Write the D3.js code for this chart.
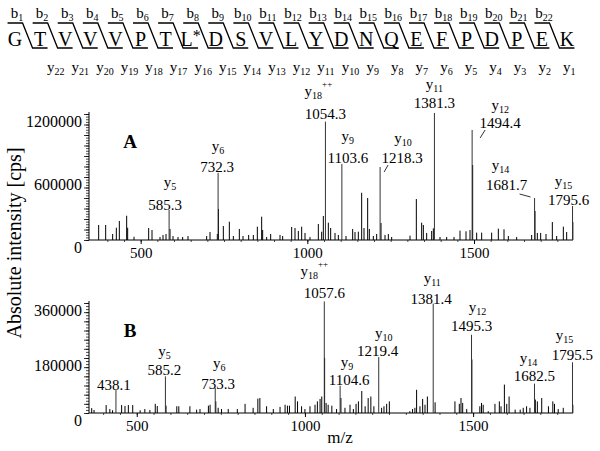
<!DOCTYPE html>
<html>
<head>
<meta charset="utf-8">
<script src="https://cdn.jsdelivr.net/npm/d3@7"></script>
<style>
  body { margin: 0; background: #fff; }
  text { font-family: "Liberation Serif", "Times New Roman", serif; fill: #000; }
</style>
</head>
<body>
<svg id="chart" width="600" height="451"></svg>
<script>
// peptide sequence and fragment ladder
var residues = ["G", "T", "V", "V", "V", "P", "T", "L*", "D", "S", "V", "L", "Y", "D", "N", "Q", "E", "F", "P", "D", "P", "E", "K"];

// axis ticks
var xTicks = [500, 1000, 1500];
var yTicksA = [0, 600000, 1200000];
var yTicksB = [0, 180000, 360000];

// panel A: unlabelled peaks [m/z, intensity]
var peaksA = [[374, 143000], [395, 143000], [416, 57000], [427, 117000], [436, 181000], [458, 231000], [461, 117000],
    [480, 31000], [524, 114000], [534, 95000], [558, 29000], [567, 48000], [576, 57000], [588, 105000], [597, 38000],
    [612, 29000], [626, 29000], [642, 38000], [698, 38000], [708, 76000], [730, 57000], [733.5, 295000], [748, 133000],
    [766, 174000], [778, 38000], [796, 105000], [807, 38000], [824, 48000], [838, 48000], [850, 127000], [863, 222000],
    [866, 95000], [878, 29000], [890, 57000], [918, 48000], [926, 38000], [953, 124000], [963, 114000], [973, 86000],
    [983, 127000], [993, 67000], [1008, 29000], [1033, 152000], [1043, 79000], [1048, 229000], [1063, 165000],
    [1070, 114000], [1083, 67000], [1093, 48000], [1116, 38000], [1136, 105000], [1143, 76000], [1153, 79000],
    [1163, 450000], [1170, 114000], [1181, 400000], [1186, 105000], [1198, 38000], [1208, 57000], [1221, 162000],
    [1233, 48000], [1243, 57000], [1253, 29000], [1308, 41000], [1327, 390000], [1343, 165000], [1348, 143000],
    [1358, 67000], [1373, 86000], [1378, 111000], [1398, 29000], [1418, 29000], [1440, 29000], [1458, 89000],
    [1476, 83000], [1488, 95000], [1496, 714000], [1508, 70000], [1523, 70000], [1553, 70000], [1573, 108000],
    [1590, 102000], [1603, 38000], [1628, 29000], [1673, 48000], [1683, 276000], [1690, 67000], [1700, 67000],
    [1716, 57000], [1735, 171000], [1748, 38000], [1768, 127000], [1778, 76000], [1796.5, 171000]];

// panel A: annotated peaks
var annIonA = ["y5", "y6", "y18++", "y9", "y10", "y11", "y12", "y14", "y15"];
var annMzA = [585.3, 732.3, 1054.3, 1103.6, 1218.3, 1381.3, 1494.4, 1681.7, 1795.6];
var annIntA = [286000, 640000, 1127000, 724000, 695000, 1210000, 1048000, 400000, 324000];

// panel B: unlabelled peaks
var peaksB = [[366, 16000], [373, 10000], [409, 26000], [420, 13000], [428, 9000], [455, 26000], [465, 23000],
    [475, 26000], [488, 26000], [510, 9000], [524, 13000], [539, 10000], [555, 30000], [561, 23000], [587, 24000],
    [619, 22000], [625, 22000], [658, 22000], [678, 11000], [688, 13000], [713, 24000], [718, 27000], [735, 38000],
    [742, 17000], [752, 13000], [772, 13000], [799, 13000], [822, 30000], [846, 17000], [860, 47000], [866, 49000],
    [886, 22000], [906, 13000], [926, 20000], [941, 27000], [948, 24000], [954, 24000], [971, 54000], [978, 38000],
    [990, 22000], [1000, 13000], [1015, 22000], [1030, 27000], [1037, 38000], [1045, 46000], [1050, 54000],
    [1058.5, 180000], [1063, 33000], [1069, 27000], [1080, 24000], [1094, 13000], [1107, 49000], [1119, 17000],
    [1134, 27000], [1144, 13000], [1152, 30000], [1159, 38000], [1169, 72000], [1179, 22000], [1188, 49000],
    [1196, 54000], [1205, 22000], [1228, 17000], [1235, 22000], [1243, 30000], [1251, 38000], [1312, 6000],
    [1320, 13000], [1327, 17000], [1332, 76000], [1342, 22000], [1350, 46000], [1357, 27000], [1364, 54000],
    [1387, 35000], [1446, 38000], [1459, 30000], [1464, 49000], [1469, 33000], [1481, 13000], [1496.3, 175000],
    [1520, 22000], [1525, 33000], [1530, 27000], [1545, 6000], [1565, 30000], [1578, 38000], [1583, 22000],
    [1593, 93000], [1600, 30000], [1607, 54000], [1625, 11000], [1640, 11000], [1649, 17000], [1659, 22000],
    [1669, 17000], [1685, 44000], [1691, 38000], [1704, 49000], [1724, 22000], [1737, 38000], [1742, 30000],
    [1753, 13000], [1768, 17000], [1796.5, 27000]];

// panel B: annotated peaks
var annIonB = ["", "y5", "y6", "y18++", "y9", "y10", "y11", "y12", "y14", "y15"];
var annMzB = [438.1, 585.2, 733.3, 1057.6, 1104.6, 1219.4, 1381.4, 1495.3, 1682.5, 1795.5];
var annIntB = [75000, 120000, 82000, 365000, 89000, 183000, 358000, 256000, 96000, 166000];

// label placement relative to the peak top: [dx number, dy number, dx ion, dy ion]
var labelPosA = [[-4, -5, 1, -25], [-1, -6, 0, -24], [0, -8, -7, -28], [6, -6, 6, -25], [22, -9, 23, -26],
    [0, -10, 0, -26], [28, -7, 28, -22], [-28, -13, -34, -30], [-4, -6, -9, -22]];
var leaderA = {4: [8, -2, 4, 5], 6: [13, 0, 8, 8], 7: [-15, -4, -4, -1]};
var labelPosB = [[-2, -5, 0, 0], [-1, -6, -1, -22], [3, -4, 4, -22], [0, -8, -10, -27], [9, -6, 7, -21],
    [-1, -6, 5, -21], [-2, -5, -1, -23], [0, -9, 6, -25], [0, -8, -6, -23], [0, -7, -8, -24]];

var svg = d3.select("#chart");

// ---------- sequence ladder ----------
var xr = d3.scalePoint().domain(d3.range(residues.length)).range([15, 567]);
var yLabX = d3.scaleLinear().domain([0, residues.length - 2]).range([47, 563]);
var ladder = svg.append("g");

residues.forEach(function (r, i) {
    var t = ladder.append("text")
        .attr("x", xr(i))
        .attr("y", 46)
        .attr("text-anchor", "middle")
        .attr("font-size", 20);
    t.append("tspan").text(r.replace("*", ""));
    if (r.indexOf("*") >= 0) t.append("tspan").attr("dy", -5).attr("font-size", 16).text("*");
});

for (var k = 0; k < residues.length - 1; k++) {
    var m = (xr(k) + xr(k + 1)) / 2;
    ladder.append("path")
        .attr("d", "M" + (m - 20) + ",23H" + (m - 5) + "L" + (m + 5) + ",48H" + (m + 20))
        .attr("fill", "none")
        .attr("stroke", "#000")
        .attr("stroke-width", 1.3);

    var b = ladder.append("text")
        .attr("x", xr(k) + 2)
        .attr("y", 18)
        .attr("text-anchor", "middle")
        .attr("font-size", 15);
    b.append("tspan").text("b");
    b.append("tspan").attr("font-size", 10).attr("dy", 3).text(k + 1);

    var yl = ladder.append("text")
        .attr("x", yLabX(k))
        .attr("y", 72)
        .attr("font-size", 15);
    yl.append("tspan").text("y");
    yl.append("tspan").attr("font-size", 10).attr("dy", 3).text(residues.length - 1 - k);
}

// ---------- spectrum panels ----------
function ionText(sel, ion) {
    var parts = ion.match(/^([a-z])(\d+)(\+*)$/);
    if (!parts) return;
    sel.append("tspan").text(parts[1]);
    sel.append("tspan").attr("font-size", 10).attr("dy", 3).text(parts[2]);
    if (parts[3]) sel.append("tspan").attr("font-size", 9).attr("dy", -12).text(parts[3]);
}

function panel(opts) {
    var x = d3.scaleLinear().domain(opts.xDomain).range([89, 573]);
    var y = d3.scaleLinear().domain([0, opts.yMax]).range([opts.base, opts.top]);
    var g = svg.append("g");

    // minor ticks on y (ruler look)
    g.append("g")
        .attr("transform", "translate(89,0)")
        .call(d3.axisLeft(y).tickValues(d3.range(0, opts.yMax + 1, opts.yMinor)).tickSize(3).tickFormat(""))
        .call(function (a) { a.select(".domain").remove(); a.selectAll("line").attr("stroke-width", 0.7); });
    g.append("g")
        .attr("transform", "translate(89,0)")
        .call(d3.axisLeft(y).tickValues(d3.range(0, opts.yMax + 1, opts.yMid)).tickSize(5).tickFormat(""))
        .call(function (a) { a.select(".domain").remove(); a.selectAll("line").attr("stroke-width", 0.8); });
    var ya = g.append("g")
        .attr("transform", "translate(89,0)")
        .call(d3.axisLeft(y).tickValues(opts.yTicks).tickSize(0).tickPadding(7).tickFormat(d3.format("d")));
    ya.select(".domain").remove();
    ya.selectAll("text").attr("font-size", 16).attr("dy", "0.75em")
        .style("font-family", "'Liberation Serif', serif");

    // x axis
    g.append("g")
        .attr("transform", "translate(0," + opts.base + ")")
        .call(d3.axisBottom(x).tickValues(d3.range(400, 1800, 50)).tickSize(2).tickFormat(""))
        .call(function (a) { a.select(".domain").remove(); a.selectAll("line").attr("stroke-width", 0.7); });
    var xa = g.append("g")
        .attr("transform", "translate(0," + opts.base + ")")
        .call(d3.axisBottom(x).tickValues(xTicks).tickSize(4).tickPadding(3).tickFormat(d3.format("d")));
    xa.select(".domain").remove();
    xa.selectAll("text").attr("font-size", 15).style("font-family", "'Liberation Serif', serif");

    // axis lines
    g.append("line").attr("x1", 89).attr("x2", 89).attr("y1", opts.top - 2).attr("y2", opts.base).attr("stroke", "#000");
    g.append("line").attr("x1", 89).attr("x2", 573).attr("y1", opts.base).attr("y2", opts.base).attr("stroke", "#000");

    // peaks
    g.selectAll("line.pk")
        .data(opts.peaks)
        .enter().append("line")
        .attr("class", "pk")
        .attr("x1", function (d) { return x(d[0]); })
        .attr("x2", function (d) { return x(d[0]); })
        .attr("y1", opts.base)
        .attr("y2", function (d) { return y(d[1]); })
        .attr("stroke", "#000")
        .attr("stroke-width", 1);

    opts.annMz.forEach(function (mz, i) {
        var px = x(mz), py = y(opts.annInt[i]);
        var p = opts.pos[i];
        g.append("line")
            .attr("x1", px).attr("x2", px)
            .attr("y1", opts.base).attr("y2", py)
            .attr("stroke", "#333").attr("stroke-width", 1);
        g.append("text")
            .attr("x", px + p[0]).attr("y", py + p[1] + 5)
            .attr("text-anchor", "middle")
            .attr("font-size", 15)
            .text(mz.toFixed(1));
        if (opts.ions[i]) {
            var t = g.append("text")
                .attr("x", px + p[2]).attr("y", py + p[3] + 2)
                .attr("text-anchor", "middle")
                .attr("font-size", 15);
            ionText(t, opts.ions[i]);
        }
        var l = opts.leaders && opts.leaders[i];
        if (l) {
            g.append("line")
                .attr("x1", px + l[0]).attr("y1", py + l[1])
                .attr("x2", px + l[2]).attr("y2", py + l[3])
                .attr("stroke", "#000").attr("stroke-width", 0.8);
        }
    });

    g.append("text")
        .attr("x", 130).attr("y", opts.top + 34)
        .attr("text-anchor", "middle")
        .attr("font-size", 19)
        .attr("font-weight", "bold")
        .text(opts.name);
}

panel({
    name: "A", xDomain: [345, 1797], yMax: 1200000, base: 240, top: 114,
    yTicks: yTicksA, yMinor: 25000, yMid: 100000,
    peaks: peaksA, annMz: annMzA, annInt: annIntA, ions: annIonA, pos: labelPosA, leaders: leaderA
});
panel({
    name: "B", xDomain: [358, 1797], yMax: 360000, base: 413, top: 303,
    yTicks: yTicksB, yMinor: 10000, yMid: 30000,
    peaks: peaksB, annMz: annMzB, annInt: annIntB, ions: annIonB, pos: labelPosB
});

// axis titles
svg.append("text")
    .attr("transform", "translate(21,243) rotate(-90)")
    .attr("text-anchor", "middle")
    .attr("font-size", 20)
    .text("Absolute intensity [cps]");
svg.append("text")
    .attr("x", 340).attr("y", 443)
    .attr("text-anchor", "middle")
    .attr("font-size", 17)
    .text("m/z");
</script>
</body>
</html>
